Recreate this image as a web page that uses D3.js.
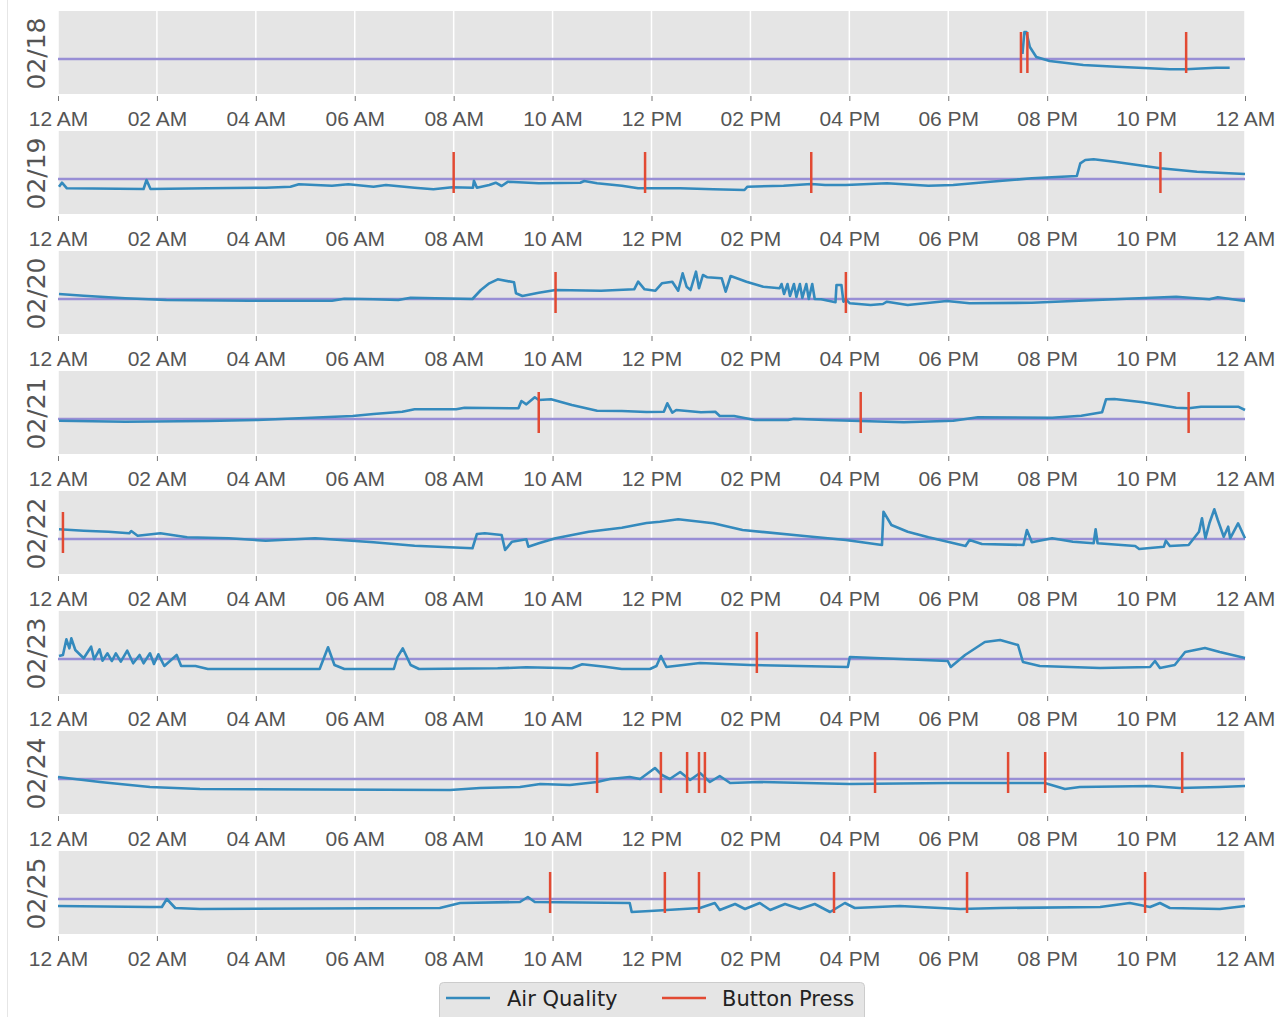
<!DOCTYPE html>
<meta charset="utf-8">
<script src="https://d3js.org/d3.v7.min.js"></script>
<style>
body { margin: 0; background: #fff; }
svg { font-family: "DejaVu Sans", sans-serif; }
.tick text { fill: #555; }
.tick line { stroke: #777; }
</style>
<div id="my_dataviz"></div>
<script>
// days shown, one panel each
var days = ["02/18", "02/19", "02/20", "02/21", "02/22", "02/23", "02/24", "02/25"];

// x tick labels (every 2 hours)
var tickHours = [0, 2, 4, 6, 8, 10, 12, 14, 16, 18, 20, 22, 24];
var tickLabels = ["12 AM", "02 AM", "04 AM", "06 AM", "08 AM", "10 AM", "12 PM",
                  "02 PM", "04 PM", "06 PM", "08 PM", "10 PM", "12 AM"];

// reference level (purple line) and extent of a button press mark
var baseline = 35;
var pressLow = 21, pressHigh = 62;
var yDomain = [0, 83];

// air quality readings: [hour of day, value]
var aq0218 = [[19.50,40],[19.54,62],[19.58,62],[19.65,47],[19.78,37],[20.05,33],[20.73,29],
  [21.40,27.3],[22.07,25.7],[22.48,24.7],[22.81,24.7],[23.10,25.5],[23.42,26.3],[23.69,26.3]];

var aq0219 = [[0.02,27.3],[0.08,31.3],[0.18,25.7],[1.73,25],[1.79,34],[1.87,25],[3.03,25.7],
  [4.2,26.3],[4.7,27.3],[4.87,29.7],[5.54,28.3],[5.87,29.7],[6.38,27.3],[6.63,29],[7.21,26.3],
  [7.59,24.7],[7.97,26.7],[8.39,26.3],[8.41,33.3],[8.47,26.3],[8.72,29],[8.85,31.3],[8.97,28],
  [9.1,32.3],[9.31,31.7],[9.72,30.7],[10.56,31.3],[10.64,33],[10.9,30.7],[11.4,28.3],[11.73,25.7],
  [12.58,25.7],[13.25,24.7],[13.88,24],[13.94,27.3],[14.67,28.3],[15.23,30],[15.51,29],[15.93,29],
  [16.76,30.7],[17.6,28.3],[18.1,29],[18.85,32.3],[19.69,35.7],[20.6,38],[20.67,50.7],[20.77,54],
  [20.94,54.7],[21.36,52.3],[22.29,45.7],[23.03,42.3],[24,40]];

var aq0220 = [[0.02,40],[0.52,38.3],[1.36,35.7],[2.19,34],[3.87,33.3],[5.54,33.3],[5.79,35.3],
  [6.38,34.7],[6.88,34],[7.13,36.3],[7.63,35.7],[8.38,35],[8.55,44],[8.72,50.7],[8.89,54.7],
  [9.22,51.7],[9.26,40.7],[9.39,38],[9.72,41.3],[10.06,44],[10.98,43.3],[11.65,44.7],[11.73,52.3],
  [11.86,44.7],[12.08,43.3],[12.21,50.7],[12.42,52.3],[12.54,43.3],[12.63,60.7],[12.71,47.3],
  [12.79,44],[12.9,62.3],[12.96,45.7],[13.04,59],[13.13,56.7],[13.42,55.7],[13.5,42.3],[13.6,58],
  [13.92,52.3],[14.26,47.3],[14.59,45.7],[14.63,50],[14.68,40],[14.75,50],[14.8,38],[14.88,50],
  [14.93,37],[15.0,50],[15.05,36],[15.13,50],[15.18,35],[15.25,50],[15.3,35],[15.43,34.7],
  [15.72,31.7],[15.74,49],[15.84,49],[15.88,32.3],[15.93,34.7],[16.01,30.7],[16.43,29],[16.68,30],
  [16.76,32.3],[17.18,29],[17.97,33],[18.43,30.7],[19.69,31.3],[21.36,34.7],[22.61,37.3],
  [23.28,34.7],[23.45,36.7],[24,33]];

var aq0221 = [[0.02,33.3],[1.36,32.3],[3.03,33],[4.03,34],[5.96,38],[6.38,40],[6.96,42.3],
  [7.21,44.7],[8.05,44.7],[8.22,46.3],[9.31,45.7],[9.37,53],[9.47,49.7],[9.64,56.7],[9.72,54],
  [9.97,54.7],[10.39,49],[10.9,43.3],[11.4,43],[11.9,42],[12.25,42.3],[12.32,50.7],[12.42,41.3],
  [12.5,44],[13.0,41.7],[13.29,42.3],[13.38,38],[13.67,38],[14.09,34],[14.76,34],[14.88,35.3],
  [15.51,34],[16.23,33],[17.1,31.7],[18.1,33.3],[18.6,36.7],[20.1,36.3],[20.69,38.3],[21.11,41.7],
  [21.19,54.7],[21.36,55],[21.94,51.7],[22.61,46.3],[22.86,45.7],[23.11,47.3],[23.86,47.3],[24,44]];

var aq0222 = [[0.02,44.7],[0.52,43.3],[1.02,42.3],[1.44,40.7],[1.48,43],[1.61,38.3],[2.07,40.7],
  [2.61,36.7],[3.45,35.7],[4.2,33.3],[5.2,35.7],[6.38,31.7],[7.21,28.3],[8.38,25.7],[8.47,40],
  [8.63,40.7],[8.97,39],[9.04,24],[9.18,32.3],[9.47,34.7],[9.51,27.3],[9.72,30.7],[10.06,35.7],
  [10.73,42.3],[11.4,46.3],[11.9,51],[12.17,52.3],[12.54,54.7],[13.25,50.7],[13.84,44],[15.09,38],
  [15.93,34],[16.66,29],[16.69,62.3],[16.85,49],[17.18,42.3],[17.6,36.7],[18.35,28],[18.43,34],
  [18.68,30],[19.52,29],[19.59,44],[19.69,31.7],[20.1,35.7],[20.52,32.3],[20.94,30.7],[20.98,44.7],
  [21.02,30.7],[21.78,28],[21.86,25],[22.36,27.3],[22.4,33.3],[22.48,28],[22.86,29],[23.07,42.3],
  [23.13,55.7],[23.2,35.7],[23.28,50.7],[23.38,64.7],[23.45,54],[23.57,37.3],[23.66,47.3],
  [23.7,35.7],[23.86,50.7],[24,35.7]];

var aq0223 = [[0.02,38],[0.1,39],[0.17,54.7],[0.23,45.7],[0.27,55.7],[0.35,44],[0.52,35.7],
  [0.67,47.3],[0.73,34.7],[0.84,44.7],[0.9,33.3],[1.0,40.7],[1.09,33],[1.17,40.7],[1.27,32.3],
  [1.4,43.3],[1.52,30.7],[1.65,39],[1.73,30.7],[1.86,40.7],[1.94,30],[2.03,39.7],[2.15,28],
  [2.4,39],[2.49,28],[2.78,28],[3.03,25],[5.29,25],[5.46,46.7],[5.59,29],[5.79,25],[6.79,25],
  [6.86,36.7],[6.97,45.7],[7.13,29],[7.3,25],[8.89,25.7],[9.47,26.7],[10.39,25.7],[10.6,29.7],
  [11.06,27.3],[11.4,25],[11.97,25],[12.1,28],[12.19,38],[12.3,27],[12.98,31],[13.99,29],
  [15.97,27],[16.01,37],[17.02,35],[17.99,33],[18.05,27],[18.34,39],[18.74,52],[19.05,54],
  [19.41,49],[19.51,32],[19.85,28],[21.07,26],[22.08,27],[22.18,33],[22.28,26],[22.58,29],
  [22.79,42],[23.19,46],[23.49,42],[24,36]];

var aq0224 = [[0,37],[0.85,32],[1.86,27],[2.87,25],[7.93,24],[8.53,26],[9.34,27],[9.75,30],
  [10.35,29],[10.9,32],[11.16,35],[11.56,37],[11.77,35],[12.07,46],[12.21,39],[12.37,35],
  [12.58,42],[12.78,34],[12.98,41],[13.18,32],[13.38,38],[13.59,31],[14.19,32],[16.01,30],
  [18.03,31],[19.95,31],[20.36,25],[20.66,27],[22.08,28],[22.68,26],[23.49,27],[24,28]];

var aq0225 = [[0,28],[1.86,27],[2.1,27],[2.2,35],[2.37,26],[2.87,25],[7.72,26],[8.13,31],
  [9.34,32],[9.5,37],[9.64,32],[11.56,31],[11.6,22],[11.97,23],[12.98,26],[13.28,31],[13.38,24],
  [13.69,30],[13.89,25],[14.19,31],[14.4,24],[14.7,30],[15.0,25],[15.3,30],[15.61,22],[15.91,31],
  [16.11,26],[17.02,28],[18.24,25],[19.05,26],[21.07,27],[21.67,31],[22.08,27],[22.28,31],
  [22.48,26],[23.49,25],[24,28]];

// button presses: hour of day
var press0218 = [19.47, 19.60, 22.81];
var press0219 = [8.0, 11.87, 15.23, 22.29];
var press0220 = [10.06, 15.93];
var press0221 = [9.72, 16.23, 22.86];
var press0222 = [0.1];
var press0223 = [14.13];
var press0224 = [10.9, 12.19, 12.72, 12.96, 13.08, 16.52, 19.21, 19.96, 22.73];
var press0225 = [9.95, 12.27, 12.96, 15.69, 18.38, 21.98];

var airQuality = [aq0218, aq0219, aq0220, aq0221, aq0222, aq0223, aq0224, aq0225];
var presses = [press0218, press0219, press0220, press0221, press0222, press0223, press0224, press0225];

var width = 1287, height = 1017;
var left = 58, right = 1245, top0 = 11, panelH = 83, step = 120;

var svg = d3.select("#my_dataviz")
  .append("svg")
    .attr("width", width)
    .attr("height", height);

// faint border on left edge
svg.append("line")
  .attr("x1", 7.5).attr("x2", 7.5).attr("y1", 0).attr("y2", height)
  .attr("stroke", "#e6e6e6").attr("stroke-width", 1);

var x = d3.scaleLinear().domain([0, 24]).range([left, right]);

days.forEach(function(day, i) {
  var top = top0 + i * step, bottom = top + panelH;
  var y = d3.scaleLinear().domain(yDomain).range([bottom, top]);
  var g = svg.append("g");

  g.append("rect")
    .attr("x", left).attr("y", top)
    .attr("width", right - left).attr("height", panelH)
    .attr("fill", "#E5E5E5");

  // vertical grid
  g.selectAll(".grid")
    .data(tickHours)
    .enter().append("line")
      .attr("x1", function(d) { return x(d); })
      .attr("x2", function(d) { return x(d); })
      .attr("y1", top).attr("y2", bottom)
      .attr("stroke", "#fff").attr("stroke-width", 1.5);

  // x axis
  var axis = g.append("g")
    .attr("transform", "translate(0," + (bottom + 2) + ")")
    .call(d3.axisBottom(x)
      .tickValues(tickHours)
      .tickFormat(function(d, j) { return tickLabels[j]; })
      .tickSize(5)
      .tickPadding(10));
  axis.select(".domain").remove();
  axis.selectAll("text").style("font-size", "21px");

  // y label
  g.append("text")
    .attr("transform", "translate(45," + ((top + bottom) / 2 + 1) + ") rotate(-90)")
    .attr("text-anchor", "middle")
    .attr("fill", "#555")
    .style("font-size", "25px")
    .text(day);

  // reference level
  g.append("line")
    .attr("x1", x(0)).attr("x2", x(24))
    .attr("y1", y(baseline)).attr("y2", y(baseline))
    .attr("stroke", "#988ED5").attr("stroke-width", 2.5);

  // air quality
  g.append("path")
    .datum(airQuality[i])
    .attr("fill", "none")
    .attr("stroke", "#348ABD")
    .attr("stroke-width", 2.6)
    .attr("stroke-linejoin", "round")
    .attr("d", d3.line()
      .x(function(d) { return x(d[0]); })
      .y(function(d) { return y(d[1]); }));

  // button presses
  g.selectAll(".press")
    .data(presses[i])
    .enter().append("line")
      .attr("x1", function(d) { return x(d); })
      .attr("x2", function(d) { return x(d); })
      .attr("y1", y(pressLow)).attr("y2", y(pressHigh))
      .attr("stroke", "#E24A33").attr("stroke-width", 2.5);
});

// legend
var legend = svg.append("g");
legend.append("rect")
  .attr("x", 439.5).attr("y", 982.5).attr("width", 425).attr("height", 50)
  .attr("rx", 4)
  .attr("fill", "#E5E5E5").attr("stroke", "#ccc");
var items = [{label: "Air Quality", color: "#348ABD", x0: 446, tx: 507},
             {label: "Button Press", color: "#E24A33", x0: 662, tx: 722}];
items.forEach(function(it) {
  legend.append("line")
    .attr("x1", it.x0).attr("x2", it.x0 + 44)
    .attr("y1", 998).attr("y2", 998)
    .attr("stroke", it.color).attr("stroke-width", 2.5);
  legend.append("text")
    .attr("x", it.tx).attr("y", 1006)
    .attr("fill", "#222")
    .style("font-size", "21px")
    .text(it.label);
});
</script>
